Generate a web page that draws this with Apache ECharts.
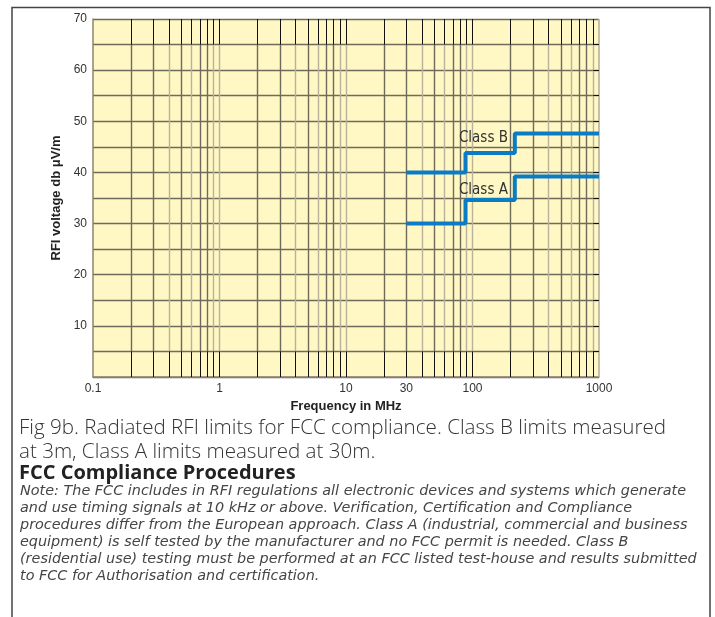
<!DOCTYPE html>
<html>
<head>
<meta charset="utf-8">
<script src="https://cdn.jsdelivr.net/npm/echarts@6/dist/echarts.min.js"></script>
<style>
html,body{margin:0;padding:0;background:#fff;}
#c{width:715px;height:617px;}
</style>
</head>
<body>
<div id="c"></div>
<script>
// ---- data ----
var xTickLabels = [0.1, 1, 10, 30, 100, 1000];
var classBFreq = [30, 88, 216, 1000];
var classBLevel = [40, 43.8, 47.6, 47.6];
var classAFreq = [30, 88, 216, 1000];
var classALevel = [30, 34.6, 39.2, 39.2];
var gridDecades = [0.1, 1, 10, 100];
var gridMultipliers = [1, 2, 3, 4, 5, 6, 7, 8, 9];
var darkMultipliers = [2, 3, 5, 7, 8];
var captionLines = [
  'Fig 9b. Radiated RFI limits for FCC compliance. Class B limits measured',
  'at 3m, Class A limits measured at 30m.'
];
var headingText = 'FCC Compliance Procedures';
var noteLines = [
  'Note: The FCC includes in RFI regulations all electronic devices and systems which generate',
  'and use timing signals at 10 kHz or above. Verification, Certification and Compliance',
  'procedures differ from the European approach. Class A (industrial, commercial and business',
  'equipment) is self tested by the manufacturer and no FCC permit is needed. Class B',
  '(residential use) testing must be performed at an FCC listed test-house and results submitted',
  'to FCC for Authorisation and certification.'
];

var DARK = '#6f6a59', LIGHT = '#b8b29b', BLACK = '#111';
var BLUE = '#0a7cc6';

// vertical grid lines (log spaced)
var gridLines = [];
gridDecades.forEach(function (dec) {
  gridMultipliers.forEach(function (m) {
    if (dec === 0.1 && m === 1) return;
    var v = +(dec * m).toPrecision(6);
    var col = darkMultipliers.indexOf(m) >= 0 ? DARK : LIGHT;
    gridLines.push([{coord: [v, 5], lineStyle: {color: col, width: 1.4, type: 'solid'}}, {coord: [v, 65]}]);
    gridLines.push([{coord: [v, 0], lineStyle: {color: BLACK, width: 1, type: 'solid'}}, {coord: [v, 5]}]);
    gridLines.push([{coord: [v, 65], lineStyle: {color: BLACK, width: 1, type: 'solid'}}, {coord: [v, 70]}]);
  });
});
gridLines.push([{coord: [1000, 0], lineStyle: {color: LIGHT, width: 1.6, type: 'solid'}}, {coord: [1000, 70]}]);
for (var h = 5; h < 70; h += 5) {
  gridLines.push([{coord: [900, h], lineStyle: {color: BLACK, width: 1, type: 'solid'}}, {coord: [1000, h]}]);
}

function pairs(xs, ys) { return xs.map(function (x, i) { return [x, ys[i]]; }); }

var chart = echarts.init(document.getElementById('c'), null, {renderer: 'canvas'});
var labelFont = "'Liberation Sans', Arial, sans-serif";
var narrowFont = "'Liberation Sans Narrow', 'DejaVu Sans Condensed', sans-serif";
var textFont = "'Open Sans', 'Noto Sans', sans-serif";
var noteFont = "'DejaVu Sans', 'Open Sans', sans-serif";

var graphics = [
  {type: 'polyline', silent: true, shape: {points: [[12, 620], [12, 7.5], [710, 7.5], [710, 620]]},
   style: {stroke: '#444', lineWidth: 1.5, fill: null}}
];
captionLines.forEach(function (t, i) {
  graphics.push({type: 'text', x: 19, y: 428 + i * 24,
    style: {text: t, font: '300 20.6px ' + textFont, fill: '#333', textVerticalAlign: 'middle'}});
});
graphics.push({type: 'text', x: 19, y: 473,
  style: {text: headingText, font: 'bold 20px ' + textFont, fill: '#222', textVerticalAlign: 'middle'}});
noteLines.forEach(function (t, i) {
  graphics.push({type: 'text', x: 20, y: 491 + i * 17,
    style: {text: t, font: 'italic 14.4px ' + noteFont, fill: '#454545', textVerticalAlign: 'middle'}});
});

chart.setOption({
  animation: false,
  backgroundColor: '#fff',
  grid: {left: 93, right: 116, top: 19, bottom: 240, show: true, backgroundColor: '#fff8c4', borderWidth: 0},
  xAxis: {
    type: 'log', logBase: 10, min: 0.1, max: 1000,
    name: 'Frequency in MHz', nameLocation: 'middle', nameGap: 18,
    nameTextStyle: {fontFamily: labelFont, fontWeight: 'bold', fontSize: 13, color: '#222'},
    axisLine: {show: true, lineStyle: {color: '#8a8474', width: 1.5}},
    axisTick: {show: false},
    splitLine: {show: false},
    minorTick: {show: false},
    axisLabel: {customValues: xTickLabels, margin: 6, fontFamily: labelFont, fontSize: 12, color: '#333',
      formatter: function (v) { return String(+v.toPrecision(6)); }}
  },
  yAxis: {
    type: 'value', min: 0, max: 70, interval: 5,
    name: 'RFI voltage db μV/m', nameLocation: 'middle', nameGap: 24,
    nameTextStyle: {fontFamily: labelFont, fontWeight: 'bold', fontSize: 13, color: '#222'},
    axisLine: {show: true, lineStyle: {color: '#8a8474', width: 1.5}},
    axisTick: {show: false},
    splitLine: {show: true, lineStyle: {color: DARK, width: 1.3}},
    axisLabel: {margin: 6, fontFamily: labelFont, fontSize: 12, color: '#333',
      formatter: function (v) { return (v > 0 && v % 10 === 0) ? String(v) : ''; }}
  },
  graphic: graphics,
  series: [
    {
      type: 'line', name: 'grid', data: [], silent: true, z: 1,
      markLine: {silent: true, symbol: ['none', 'none'], label: {show: false}, animation: false,
        lineStyle: {type: 'solid'}, data: gridLines}
    },
    {
      type: 'line', name: 'Class B', data: pairs(classBFreq, classBLevel), step: 'end',
      showSymbol: false, symbol: 'none', z: 5,
      lineStyle: {color: BLUE, width: 4},
      markPoint: {symbol: 'circle', symbolSize: 0, silent: true,
        data: [{coord: [122, 46.7], label: {show: true, position: 'inside', formatter: 'Class B',
          fontFamily: narrowFont, fontSize: 15, color: '#333'}}]}
    },
    {
      type: 'line', name: 'Class A', data: pairs(classAFreq, classALevel), step: 'end',
      showSymbol: false, symbol: 'none', z: 5,
      lineStyle: {color: BLUE, width: 4},
      markPoint: {symbol: 'circle', symbolSize: 0, silent: true,
        data: [{coord: [122, 36.6], label: {show: true, position: 'inside', formatter: 'Class A',
          fontFamily: narrowFont, fontSize: 15, color: '#333'}}]}
    }
  ]
});
</script>
</body>
</html>
